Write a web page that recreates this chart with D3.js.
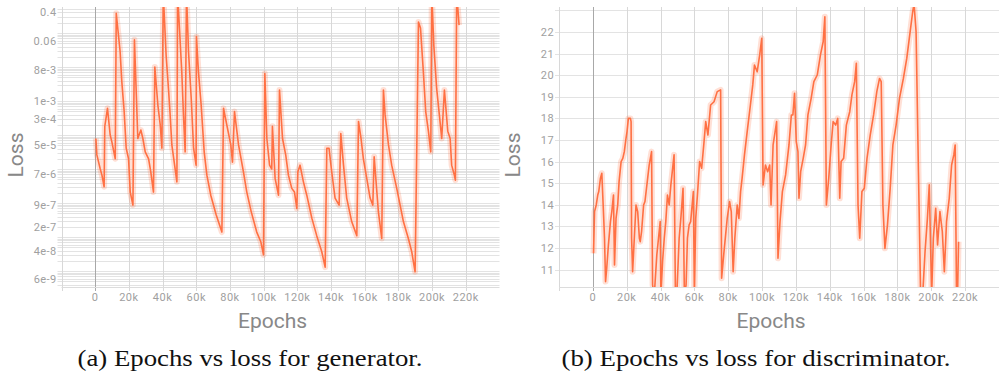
<!DOCTYPE html>
<html>
<head>
<meta charset="utf-8">
<script src="https://cdn.jsdelivr.net/npm/d3@7"></script>
<style>
  body { margin: 0; background: #fff; }
</style>
</head>
<body>
<svg id="chart" width="1000" height="374"></svg>
<script>
// x ticks (epochs, in thousands)
const epochTicksK = [0, 20, 40, 60, 80, 100, 120, 140, 160, 180, 200, 220];

// generator: log scale, odd tensorboard tick labels
const genYTicks = [0.4, 0.06, 8e-3, 1e-3, 3e-4, 5e-5, 7e-6, 9e-7, 2e-7, 4e-8, 6e-9];
const genYLabels = ["0.4", "0.06", "8e-3", "1e-3", "3e-4", "5e-5", "7e-6", "9e-7", "2e-7", "4e-8", "6e-9"];

// discriminator: linear scale
const discYTicks = [11, 12, 13, 14, 15, 16, 17, 18, 19, 20, 21, 22];

// generator loss
const genEpochK = [
  0.4, 1.0, 3.0, 4.0, 5.3, 5.7, 7.3, 8.9, 9.9, 11.9,
  12.5, 14.8, 15.8, 17.2, 18.4, 19.8, 20.8, 22.4, 23.3, 25.3,
  27.1, 28.3, 29.7, 31.7, 33.0, 34.6, 35.4, 37.2, 38.6, 39.6,
  40.4, 42.1, 43.5, 44.5, 45.5, 46.9, 48.5, 48.9, 51.4, 52.4,
  53.4, 54.2, 55.4, 57.0, 58.4, 59.9, 60.1, 61.3, 62.9, 64.7,
  66.3, 68.6, 71.8, 75.2, 76.2, 78.1, 80.5, 81.5, 82.7, 85.1,
  88.0, 90.0, 92.6, 95.9, 98.3, 99.9, 100.7, 101.9, 103.5, 104.8,
  105.2, 106.8, 108.8, 109.4, 111.2, 113.1, 114.7, 116.7, 118.3, 119.7,
  120.3, 121.6, 123.6, 125.6, 128.6, 131.5, 134.5, 136.5, 137.5, 138.8,
  140.4, 142.4, 144.8, 145.8, 147.4, 149.3, 152.3, 155.3, 156.3, 157.8,
  159.2, 161.2, 163.2, 164.8, 165.6, 168.1, 170.1, 171.1, 172.1, 174.1,
  176.0, 179.0, 181.0, 183.0, 185.9, 187.9, 189.9, 191.9, 193.1, 194.8,
  196.2, 197.8, 199.2, 199.8, 201.0, 202.7, 204.3, 205.7, 207.3, 209.3,
  210.7, 211.6, 213.2, 213.8, 214.6, 216.0
];
const genLoss = [
  7.9e-5, 2.6e-5, 1.0e-5, 6.6e-6, 3.0e-6, 1.8e-4, 6.1e-4, 1.0e-4, 6.3e-5, 2.0e-5,
  0.38, 0.028, 3.7e-3, 4.9e-4, 4.1e-5, 2.0e-5, 2.1e-6, 8.7e-7, 0.063, 7.9e-5,
  1.4e-4, 7.9e-5, 3.2e-5, 2.0e-5, 8.3e-6, 2.1e-6, 0.010, 7.6e-4, 2.0e-4, 4.1e-5,
  1.5, 0.022, 2.3e-3, 3.9e-4, 5.1e-5, 1.6e-5, 4.2e-6, 1.5, 7.2e-3, 3.9e-4,
  3.2e-5, 1.5, 0.028, 1.2e-3, 4.1e-5, 1.3e-5, 0.078, 7.2e-3, 7.6e-4, 3.2e-5,
  6.6e-6, 1.7e-6, 4.5e-7, 1.4e-7, 6.1e-4, 2.0e-4, 5.1e-5, 1.6e-5, 4.9e-4, 5.1e-5,
  8.3e-6, 2.1e-6, 5.6e-7, 1.4e-7, 7.3e-8, 3.0e-8, 6.4e-3, 7.9e-5, 1.3e-5, 1.0e-5,
  1.8e-4, 5.3e-6, 1.7e-6, 2.1e-3, 7.9e-5, 2.6e-5, 6.6e-6, 2.7e-6, 2.1e-6, 6.9e-7,
  8.3e-6, 1.3e-5, 4.2e-6, 1.7e-6, 3.6e-7, 1.1e-7, 3.7e-8, 1.3e-8, 4.1e-5, 4.1e-5,
  8.3e-6, 1.4e-6, 8.7e-7, 1.1e-4, 1.3e-5, 1.4e-6, 2.8e-7, 1.1e-7, 2.5e-4, 7.9e-5,
  2.0e-5, 5.3e-6, 1.4e-6, 8.7e-7, 2.3e-5, 5.6e-7, 9.1e-8, 2.1e-3, 3.9e-4, 5.1e-5,
  1.3e-5, 2.7e-6, 8.7e-7, 2.8e-7, 9.1e-8, 3.7e-8, 9.5e-9, 0.21, 0.14, 7.2e-3,
  4.9e-4, 1.3e-4, 3.2e-5, 1.5, 0.044, 2.3e-3, 3.9e-4, 7.9e-5, 2.1e-3, 1.3e-4,
  7.9e-5, 1.3e-5, 6.6e-6, 4.7e-6, 1.5, 0.17
];

// discriminator loss
const discEpochK = [
  0.4, 1.0, 2.0, 2.9, 3.5, 4.5, 5.3, 6.1, 6.9, 7.5,
  8.2, 9.2, 10.4, 11.2, 12.2, 12.8, 13.7, 14.7, 15.5, 16.7,
  17.7, 18.6, 19.6, 20.2, 21.0, 22.2, 22.6, 22.9, 23.5, 25.5,
  26.5, 27.5, 28.0, 28.8, 30.0, 30.8, 32.4, 33.3, 34.7, 35.3,
  36.3, 37.8, 38.8, 39.8, 40.2, 41.2, 42.2, 43.1, 44.1, 45.1,
  46.1, 48.0, 48.8, 49.6, 51.0, 52.0, 53.3, 54.1, 55.1, 55.9,
  56.9, 57.8, 59.4, 60.0, 60.8, 61.8, 63.1, 64.3, 65.7, 66.7,
  68.0, 69.6, 71.6, 73.5, 75.5, 76.1, 77.5, 79.4, 80.8, 81.8,
  82.9, 83.9, 85.3, 86.3, 87.3, 88.2, 89.6, 91.2, 93.1, 94.5,
  95.5, 97.1, 98.6, 99.8, 100.6, 102.0, 103.3, 104.5, 105.3, 106.5,
  107.1, 108.6, 109.4, 110.6, 112.0, 113.9, 115.9, 117.3, 118.2, 119.2,
  120.2, 121.2, 121.8, 122.8, 124.3, 125.7, 127.1, 129.0, 130.6, 132.6,
  134.5, 136.1, 137.1, 138.0, 139.4, 140.8, 142.0, 143.5, 144.7, 145.9,
  146.7, 148.2, 149.8, 151.8, 153.1, 154.7, 155.7, 156.7, 157.7, 159.0,
  160.4, 162.0, 163.9, 165.9, 167.8, 169.4, 170.4, 171.4, 172.6, 174.1,
  175.7, 177.3, 179.2, 181.2, 183.5, 185.5, 187.5, 189.0, 189.8, 191.0,
  192.4, 193.7, 194.9, 196.3, 197.7, 198.8, 200.2, 201.2, 202.6, 203.7,
  205.1, 206.5, 207.7, 209.0, 210.6, 212.0, 213.3, 214.1, 214.9, 215.5,
  216.1
];
const discLoss = [
  11.75, 13.68, 13.99, 14.45, 14.61, 15.23, 15.46, 13.99, 12.45, 10.44,
  11.06, 12.14, 13.22, 13.68, 14.45, 11.21, 13.37, 13.99, 15.07, 16.0,
  16.15, 16.46, 17.08, 17.39, 18.0, 18.0, 17.85, 12.45, 10.9, 13.99,
  13.68, 12.45, 12.29, 12.76, 13.99, 14.15, 15.23, 15.84, 16.46, 10.29,
  9.8, 11.68, 12.45, 13.22, 9.8, 11.37, 12.45, 13.22, 14.45, 13.99,
  14.92, 16.31, 9.8, 9.8, 12.45, 13.37, 14.76, 9.8, 10.29, 12.45,
  13.07, 13.22, 14.61, 9.8, 13.37, 14.45, 16.0, 15.69, 16.92, 17.85,
  17.23, 18.62, 18.77, 19.24, 19.32, 10.6, 11.83, 13.37, 14.15, 13.68,
  10.9, 12.45, 13.99, 13.37, 14.61, 15.23, 16.31, 17.39, 18.62, 19.55,
  20.47, 20.16, 20.94, 21.71, 14.92, 15.84, 15.53, 15.84, 13.99, 16.77,
  17.08, 17.85, 11.52, 13.22, 14.61, 15.38, 16.77, 18.16, 18.16, 19.16,
  16.92, 16.46, 14.3, 15.53, 16.15, 16.77, 18.16, 18.93, 19.7, 20.01,
  20.94, 21.55, 22.71, 13.99, 15.23, 16.77, 17.85, 17.69, 18.0, 14.3,
  16.0, 16.15, 17.69, 18.31, 19.09, 19.7, 20.55, 13.99, 12.45, 14.61,
  14.76, 16.15, 17.23, 18.16, 19.24, 19.85, 19.7, 13.99, 11.98, 13.07,
  14.76, 16.77, 17.69, 18.93, 19.85, 20.78, 22.02, 22.94, 23.3, 22.02,
  15.53, 9.8, 9.8, 11.83, 13.37, 14.92, 9.8, 12.45, 13.84, 12.14,
  13.68, 12.76, 10.9, 13.22, 14.3, 15.84, 16.31, 16.77, 9.8, 9.8,
  12.29
];

const svg = d3.select("#chart");
const lineColor = "#ff7043";
const plotTop = 7, plotBottom = 287;
const sans = "Roboto, 'Liberation Sans', sans-serif";

function panel(id, x0, x1, y, yTicks, yLabels, yGrid, epochs, values, caption, captionX, captionW) {
  const x = d3.scaleLinear().domain([-20, 240]).range([x0, x1]);
  const g = svg.append("g");

  // horizontal grid
  g.selectAll(".hg").data(yGrid).join("line")
    .attr("x1", x0 - 4).attr("x2", x1)
    .attr("y1", d => Math.round(y(d)) + 0.5).attr("y2", d => Math.round(y(d)) + 0.5)
    .attr("stroke", "#e3e3e3").attr("stroke-width", 1);

  // vertical grid
  g.selectAll(".vg").data([-20].concat(epochTicksK)).join("line")
    .attr("x1", d => Math.round(x(d)) + 0.5).attr("x2", d => Math.round(x(d)) + 0.5)
    .attr("y1", plotTop).attr("y2", plotBottom + 4)
    .attr("stroke", d => d === 0 ? "#a8a8a8" : "#d8d8d8").attr("stroke-width", 1);

  g.append("line").attr("x1", x0).attr("x2", x1)
    .attr("y1", plotBottom + 0.5).attr("y2", plotBottom + 0.5)
    .attr("stroke", "#dcdcdc");

  // tick labels
  g.selectAll(".xt").data(epochTicksK).join("text")
    .attr("x", d => x(d)).attr("y", plotBottom + 14)
    .attr("text-anchor", "middle")
    .attr("font-family", sans).attr("font-size", 11)
    .attr("letter-spacing", 0.5)
    .attr("fill", "#a0a0a0")
    .text(d => d === 0 ? "0" : d + "k");

  g.selectAll(".yt").data(yTicks).join("text")
    .attr("x", x0 - 5).attr("y", d => y(d) + 4)
    .attr("text-anchor", "end")
    .attr("font-family", sans).attr("font-size", 11)
    .attr("letter-spacing", 0.4)
    .attr("fill", "#a0a0a0")
    .text((d, i) => yLabels[i]);

  // clipped line
  svg.append("clipPath").attr("id", id + "clip")
    .append("rect").attr("x", x0).attr("y", plotTop)
    .attr("width", x1 - x0).attr("height", plotBottom - plotTop);

  const pts = epochs.map((e, i) => [e, values[i]]);
  const line = d3.line().x(d => x(d[0])).y(d => y(d[1]));
  const lg = svg.append("g").attr("clip-path", `url(#${id}clip)`);
  lg.append("path").datum(pts).attr("d", line)
    .attr("fill", "none").attr("stroke", lineColor).attr("stroke-opacity", 0.22)
    .attr("stroke-width", 6).attr("stroke-linejoin", "round");
  lg.append("path").datum(pts).attr("d", line)
    .attr("fill", "none").attr("stroke", lineColor)
    .attr("stroke-width", 1.6).attr("stroke-linejoin", "round");

  // axis titles
  svg.append("text")
    .attr("transform", `translate(${x0 - 39},155) rotate(-90)`)
    .attr("text-anchor", "middle")
    .attr("font-family", sans).attr("font-size", 21)
    .attr("fill", "#888").text("Loss");

  svg.append("text")
    .attr("x", x(100) + 9).attr("y", 328)
    .attr("text-anchor", "middle")
    .attr("font-family", sans).attr("font-size", 21)
    .attr("fill", "#888").text("Epochs");

  svg.append("text")
    .attr("x", captionX).attr("y", 366)
    .attr("text-anchor", "middle")
    .attr("textLength", captionW).attr("lengthAdjust", "spacingAndGlyphs")
    .attr("font-family", "'Liberation Serif', 'DejaVu Serif', serif").attr("font-size", 23)
    .attr("fill", "#111").text(caption);
}

// generator panel (log)
const yGen = d3.scaleLog().domain([3.4e-9, 0.58]).range([plotBottom, plotTop]);
const genGrid = [];
for (let k = -9; k <= 0; k++) {
  for (let d = 1; d <= 9; d++) {
    const v = d * Math.pow(10, k);
    if (v >= 3.4e-9 && v <= 0.58) genGrid.push(v);
  }
}
panel("gen", 61.5, 499.5, yGen, genYTicks, genYLabels, genGrid,
  genEpochK, genLoss, "(a) Epochs vs loss for generator.", 250, 345);

// discriminator panel (linear)
const yDisc = d3.scaleLinear().domain([10.19, 23.16]).range([plotBottom, plotTop]);
panel("disc", 559, 999, yDisc, discYTicks, discYTicks.map(String), discYTicks.concat([23]),
  discEpochK, discLoss, "(b) Epochs vs loss for discriminator.", 756, 389);
</script>
</body>
</html>
